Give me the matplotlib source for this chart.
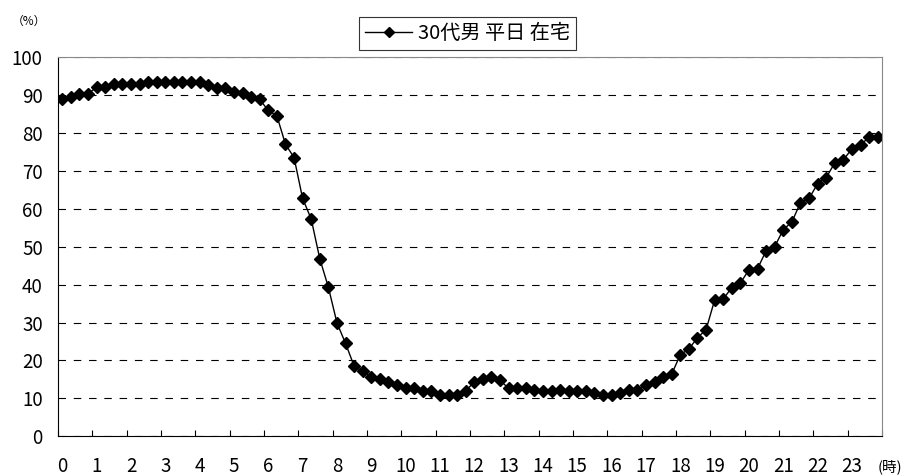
import numpy as np
import matplotlib
matplotlib.use('Agg')
import matplotlib.pyplot as plt

plt.rcParams['font.family'] = ['Noto Sans CJK JP', 'DejaVu Sans']
plt.rcParams['lines.scale_dashes'] = False

# 15分ごとの在宅率 (%)
home_rate = [89.0, 89.4, 90.3, 90.3, 92.0, 92.0, 92.9, 92.9, 92.9, 92.9, 93.3, 93.3,
             93.3, 93.3, 93.3, 93.3, 93.3, 92.7, 91.7, 91.9, 90.7, 90.6, 89.4, 88.8,
             85.9, 84.5, 77.0, 73.5, 62.7, 57.3, 46.8, 39.3, 29.9, 24.5, 18.5, 17.2,
             15.5, 15.0, 14.2, 13.5, 12.6, 12.6, 12.0, 11.9, 10.8, 10.8, 10.8, 11.9,
             14.4, 15.1, 15.7, 14.8, 12.6, 12.6, 12.7, 12.3, 11.9, 11.9, 12.3, 11.9,
             12.0, 11.9, 11.4, 10.8, 10.8, 11.4, 12.3, 12.3, 13.5, 14.4, 15.7, 16.4,
             21.5, 23.0, 26.0, 28.1, 35.9, 36.2, 39.2, 40.4, 43.9, 44.2, 48.9, 50.0,
             54.5, 56.5, 61.6, 62.7, 66.6, 68.2, 72.1, 72.9, 75.8, 76.9, 78.8, 79.0]
hour_labels = [str(h) for h in range(24)]
series_name = '30代男 平日 在宅'

slots = np.arange(len(home_rate))

fig = plt.figure(figsize=(9.09, 4.75), dpi=100)
ax = fig.add_axes([0.0638, 0.0815, 0.9065, 0.7985])

ax.plot(slots, home_rate, color='black', lw=1.0, marker='D', markersize=6.2,
        label=series_name)

ax.set_xlim(-0.5, len(home_rate) - 0.5)
ax.set_ylim(0, 100)
ax.set_yticks(np.arange(0, 101, 10))
ax.yaxis.grid(True, color='black', lw=0.8, linestyle=(0, (5.4, 5.6)))
ax.set_axisbelow(True)

# 目盛り線は1時間ごとの区切り、ラベルは各時間の最初の点
ax.set_xticks(np.arange(0, len(home_rate) + 1, 4) - 0.5)
ax.set_xticklabels([])
ax.set_xticks(np.arange(0, len(home_rate), 4), minor=True)
ax.set_xticklabels(hour_labels, minor=True)
ax.tick_params(axis='x', which='major', direction='in', length=4.5, width=0.8, color='black')
ax.tick_params(axis='x', which='minor', length=0, pad=14, labelsize=13.5)
ax.tick_params(axis='y', length=0, pad=11, labelsize=13.5)

for side in ['top', 'right']:
    ax.spines[side].set_color('#888888')
for side in ['left', 'bottom']:
    ax.spines[side].set_color('black')

ax.text(-0.035, 1.095, '（%）', transform=ax.transAxes, fontsize=8.5, ha='center', va='center')
fig.text(0.993, 0.018, '(時)', fontsize=10.5, ha='right', va='center')

leg = ax.legend(loc='center', bbox_to_anchor=(0.497, 1.063), frameon=True, fancybox=False,
                edgecolor='black', fontsize=14.5, handlelength=2.3, handletextpad=0.3,
                borderpad=0.3, markerscale=0.9)
leg.get_frame().set_linewidth(0.8)

fig.savefig('out.png', dpi=100)
